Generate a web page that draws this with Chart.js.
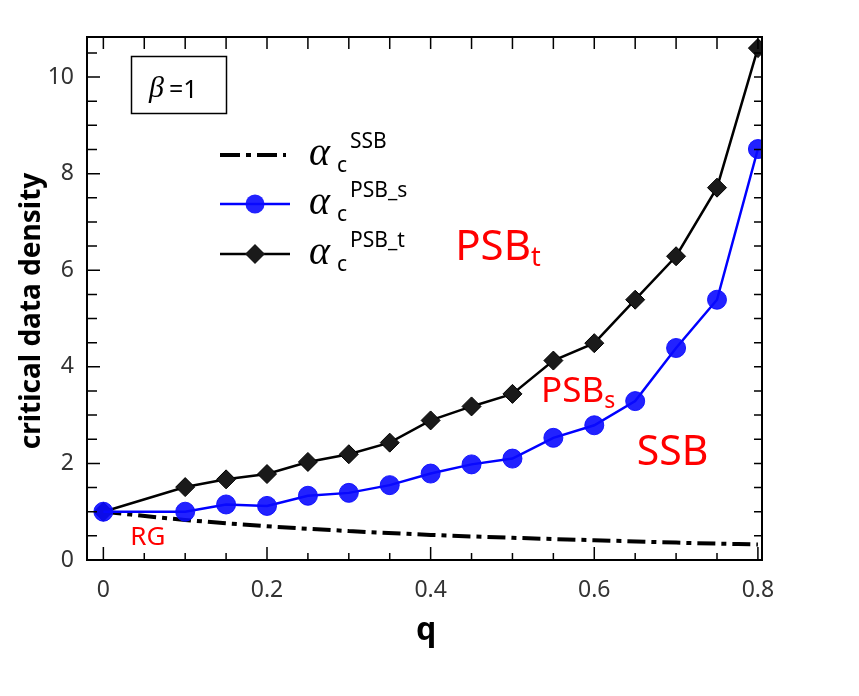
<!DOCTYPE html>
<html>
<head>
<meta charset="utf-8">
<script src="https://cdn.jsdelivr.net/npm/chart.js@4.4.1/dist/chart.umd.min.js"></script>
<style>
  html, body { margin: 0; padding: 0; background: #fff; }
</style>
</head>
<body>
<canvas id="chart" width="859" height="696"></canvas>
<script>
// q values for the SSB curve and the two PSB curves
const qSSB = [0, 0.1, 0.2, 0.3, 0.4, 0.5, 0.6, 0.7, 0.8];
const alphaSSB = [1.0, 0.83, 0.70, 0.60, 0.52, 0.46, 0.41, 0.36, 0.32];

const qPSB = [0, 0.1, 0.15, 0.2, 0.25, 0.3, 0.35, 0.4, 0.45, 0.5, 0.55, 0.6, 0.65, 0.7, 0.75, 0.8];
const alphaPSBs = [1.0, 1.0, 1.15, 1.12, 1.33, 1.39, 1.55, 1.79, 1.98, 2.10, 2.53, 2.79, 3.29, 4.39, 5.39, 8.51];
const alphaPSBt = [1.0, 1.51, 1.67, 1.78, 2.03, 2.19, 2.43, 2.89, 3.18, 3.44, 4.13, 4.49, 5.39, 6.29, 7.71, 10.6];

const xTicks = [0, 0.2, 0.4, 0.6, 0.8];
const yTicks = [0, 2, 4, 6, 8, 10];

const legendNames = ['SSB', 'PSB_s', 'PSB_t'];

const toPoints = (xs, ys) => xs.map((x, i) => ({ x: x, y: ys[i] }));

// frame, inward ticks, legend, labels
const decorations = {
  id: 'decorations',
  afterDatasetsDraw(chart) {
    const ctx = chart.ctx;
    const a = chart.chartArea;
    const xs = chart.scales.x;
    const ys = chart.scales.y;
    ctx.save();

    // frame
    ctx.strokeStyle = '#000';
    ctx.lineWidth = 2;
    ctx.strokeRect(a.left, a.top, a.right - a.left, a.bottom - a.top);

    // ticks
    ctx.lineWidth = 1.5;
    ctx.beginPath();
    for (let i = 0; i <= 16; i++) {
      const px = xs.getPixelForValue(i * 0.05);
      const len = i % 4 == 0 ? 13 : 7;
      ctx.moveTo(px, a.bottom); ctx.lineTo(px, a.bottom - len);
      ctx.moveTo(px, a.top); ctx.lineTo(px, a.top + 12);
    }
    for (let i = 0; i <= 21; i++) {
      const py = ys.getPixelForValue(i * 0.5);
      const len = i % 4 == 0 ? 13 : 10;
      ctx.moveTo(a.left, py); ctx.lineTo(a.left + len, py);
      ctx.moveTo(a.right, py); ctx.lineTo(a.right - 8, py);
    }
    ctx.stroke();

    // beta box
    ctx.lineWidth = 1.5;
    ctx.strokeRect(131.5, 56.5, 95, 57);
    ctx.fillStyle = '#000';
    ctx.textBaseline = 'alphabetic';
    ctx.textAlign = 'left';
    ctx.font = 'italic 30px "Liberation Serif"';
    ctx.fillText('\u03b2', 149, 97);
    ctx.font = '25px "Noto Sans"';
    ctx.fillText('=1', 169, 98);

    // legend
    const rows = [155, 204, 254];
    // SSB dash-dot sample
    ctx.setLineDash([20, 6, 5, 6]);
    ctx.lineWidth = 4;
    ctx.beginPath(); ctx.moveTo(220, rows[0]); ctx.lineTo(286, rows[0]); ctx.stroke();
    ctx.setLineDash([]);
    // PSB_s sample
    ctx.strokeStyle = '#0000ff';
    ctx.lineWidth = 2.5;
    ctx.beginPath(); ctx.moveTo(220, rows[1]); ctx.lineTo(290, rows[1]); ctx.stroke();
    ctx.fillStyle = 'rgba(10,10,255,0.9)';
    ctx.beginPath(); ctx.arc(255, rows[1], 9.5, 0, Math.PI * 2); ctx.fill();
    // PSB_t sample
    ctx.strokeStyle = '#000';
    ctx.beginPath(); ctx.moveTo(220, rows[2]); ctx.lineTo(290, rows[2]); ctx.stroke();
    ctx.fillStyle = '#1a1a1a';
    ctx.beginPath();
    ctx.moveTo(245, rows[2]); ctx.lineTo(255, rows[2] - 10);
    ctx.lineTo(265, rows[2]); ctx.lineTo(255, rows[2] + 10);
    ctx.closePath(); ctx.fill();

    ctx.fillStyle = '#000';
    legendNames.forEach((name, i) => {
      const y = rows[i];
      ctx.font = 'italic 40px "Liberation Serif"';
      ctx.fillText('\u03b1', 309, y + 10);
      ctx.font = '21px "Noto Sans"';
      ctx.fillText('c', 337, y + 17);
      ctx.fillText(name, 350, y - 7);
    });

    // region labels
    ctx.fillStyle = '#ff0000';
    const label = (text, sub, q, v, size, subSize) => {
      const px = xs.getPixelForValue(q);
      const py = ys.getPixelForValue(v);
      ctx.font = size + 'px "Noto Sans"';
      ctx.fillText(text, px, py);
      if (sub) {
        const w = ctx.measureText(text).width;
        ctx.font = subSize + 'px "Noto Sans"';
        ctx.fillText(sub, px + w, py + 6);
      }
    };
    label('PSB', 't', 0.43, 6.21, 42, 27);
    label('PSB', 's', 0.535, 3.27, 35, 23);
    label('SSB', '', 0.652, 1.97, 41, 0);
    label('RG', '', 0.033, 0.31, 26, 0);

    // axis titles
    ctx.fillStyle = '#000';
    ctx.font = 'bold 32px "Noto Sans"';
    ctx.textAlign = 'center';
    ctx.fillText('q', 426, 640);
    ctx.translate(40, 311);
    ctx.rotate(-Math.PI / 2);
    ctx.font = 'bold 28px "Noto Sans"';
    ctx.fillText('critical data density', 0, 0);

    ctx.restore();
  }
};

new Chart(document.getElementById('chart').getContext('2d'), {
  type: 'line',
  data: {
    datasets: [
      {
        label: 'alpha_c^SSB',
        data: toPoints(qSSB, alphaSSB),
        borderColor: '#000',
        borderWidth: 4,
        borderDash: [18, 6, 5, 6],
        pointRadius: 0,
        cubicInterpolationMode: 'monotone',
        order: 3
      },
      {
        label: 'alpha_c^PSB_t',
        data: toPoints(qPSB, alphaPSBt),
        borderColor: '#000',
        borderWidth: 2.5,
        pointStyle: 'rectRot',
        pointRadius: 9.5,
        pointBorderWidth: 1,
        pointBackgroundColor: '#1a1a1a',
        pointBorderColor: '#000',
        order: 2
      },
      {
        label: 'alpha_c^PSB_s',
        data: toPoints(qPSB, alphaPSBs),
        borderColor: '#0000ff',
        borderWidth: 2.5,
        pointStyle: 'circle',
        pointRadius: 9.5,
        pointBorderWidth: 1,
        pointBackgroundColor: 'rgba(10,10,255,0.9)',
        pointBorderColor: 'rgba(10,10,255,0.9)',
        order: 1
      }
    ]
  },
  options: {
    responsive: false,
    animation: false,
    layout: { padding: { left: 0, top: 37, right: 97, bottom: 0 } },
    plugins: { legend: { display: false }, tooltip: { enabled: false } },
    scales: {
      x: {
        type: 'linear',
        min: -0.02,
        max: 0.805,
        afterBuildTicks: s => { s.ticks = xTicks.map(v => ({ value: v })); },
        afterFit: s => { s.height = 136; },
        grid: { display: false, drawTicks: false },
        border: { display: false },
        ticks: {
          padding: 17,
          color: '#333',
          font: { family: 'Noto Sans', size: 23 },
          maxRotation: 0,
          callback: v => String(v)
        }
      },
      y: {
        min: 0,
        max: 10.83,
        afterBuildTicks: s => { s.ticks = yTicks.map(v => ({ value: v })); },
        afterFit: s => { s.width = 87; },
        grid: { display: false, drawTicks: false },
        border: { display: false },
        ticks: {
          padding: 13,
          color: '#333',
          font: { family: 'Noto Sans', size: 23 },
          callback: v => String(v)
        }
      }
    }
  },
  plugins: [decorations]
});
</script>
</body>
</html>
